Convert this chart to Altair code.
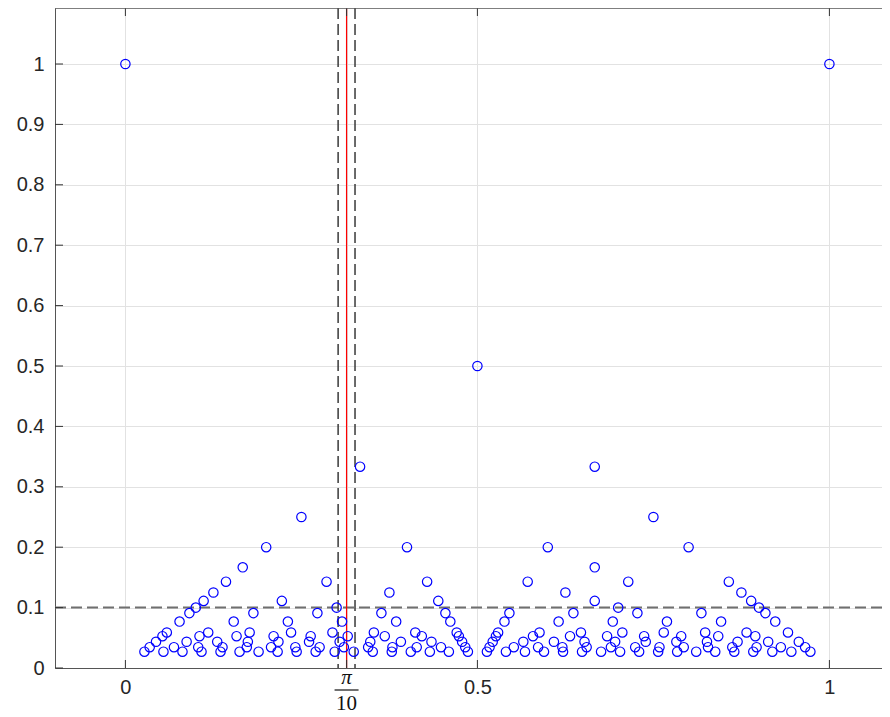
import altair as alt
import pandas as pd
import numpy as np

# numerators p observed for each denominator q (points at x=p/q, y=1/q)
num_q1 = [0, 1]
num_q2 = [1]
num_q3 = [1, 2]
num_q4 = [1, 3]
num_q5 = [1, 2, 3, 4]
num_q6 = [1, 4]
num_q7 = [1, 2, 3, 4, 5, 6]
num_q8 = [1, 3, 5, 7]
num_q9 = [1, 2, 4, 6, 8]
num_q10 = [1, 3, 7, 9]
num_q11 = [1, 2, 3, 4, 5, 6, 7, 8, 9, 10]
num_q13 = [1, 2, 3, 4, 5, 6, 7, 8, 9, 10, 11, 12]
num_q17 = [1, 2, 3, 4, 5, 6, 7, 8, 9, 10, 11, 12, 13, 14, 15, 16]
num_q19 = [1, 2, 3, 4, 5, 6, 7, 8, 9, 10, 11, 12, 13, 14, 15, 16, 17]
num_q23 = [1, 2, 3, 4, 5, 6, 7, 8, 9, 10, 11, 12, 13, 14, 15, 16, 17, 18, 19, 20,
           21, 22]
num_q29 = [1, 2, 3, 4, 5, 6, 7, 8, 9, 10, 11, 12, 13, 14, 15, 16, 17, 18, 19, 20,
           21, 22, 23, 24, 25, 26, 27, 28]
num_q37 = [1, 2, 3, 4, 5, 6, 7, 8, 9, 10, 11, 12, 13, 14, 15, 16, 17, 18, 19, 20,
           21, 22, 23, 24, 25, 26, 27, 28, 29, 30, 31, 32, 33, 34, 35, 36]

denominators = [1, 2, 3, 4, 5, 6, 7, 8, 9, 10, 11, 13, 17, 19, 23, 29, 37]
numerator_lists = [num_q1, num_q2, num_q3, num_q4, num_q5, num_q6, num_q7, num_q8,
                   num_q9, num_q10, num_q11, num_q13, num_q17, num_q19, num_q23,
                   num_q29, num_q37]

x_tick_values = [0, np.pi / 10, 0.5, 1]
y_tick_values = [0, 0.1, 0.2, 0.3, 0.4, 0.5, 0.6, 0.7, 0.8, 0.9, 1.0]
threshold_y = [0.1]
center_x = [np.pi / 10]
band_half_width = 0.012
band_x = [np.pi / 10 - band_half_width, np.pi / 10 + band_half_width]

rows = []
for q, nums in zip(denominators, numerator_lists):
    for p in nums:
        rows.append({"x": p / q, "y": 1 / q})
pts = pd.DataFrame(rows)

PX_PER_X = 704
PX_PER_Y = 604
W = 827
H = 660
xs = alt.Scale(domain=[-0.1, -0.1 + W / PX_PER_X], nice=False, zero=False)
ys = alt.Scale(domain=[0, H / PX_PER_Y], nice=False, zero=False)

x_axis = alt.Axis(values=x_tick_values, title=None, ticks=False, labelPadding=9,
                  labelExpr="datum.value == 0 ? '0' : datum.value == 0.5 ? '0.5' : datum.value == 1 ? '1' : ''",
                  gridColor="#e2e2e2", grid=True, domainColor="#555555")
y_axis = alt.Axis(values=y_tick_values, title=None, ticks=False, labelPadding=11,
                  labelExpr="format(datum.value, '.1~f')",
                  gridColor="#e2e2e2", grid=True, domainColor="#555555")

base_pts = alt.Chart(pts).mark_point(shape="circle", filled=False, color="#0000ff",
                                     size=88, strokeWidth=1.2, opacity=1).encode(
    x=alt.X("x:Q", scale=xs, axis=x_axis),
    y=alt.Y("y:Q", scale=ys, axis=y_axis),
)

hline = alt.Chart(pd.DataFrame({"y": threshold_y})).mark_rule(
    color="#6f6f6f", strokeWidth=2, strokeDash=[11, 5]).encode(
    y=alt.Y("y:Q", scale=ys))

vlines = alt.Chart(pd.DataFrame({"x": band_x})).mark_rule(
    color="#3a3a3a", strokeWidth=1.5, strokeDash=[11, 5]).encode(
    x=alt.X("x:Q", scale=xs))

redline = alt.Chart(pd.DataFrame({"x": center_x})).mark_rule(
    color="#ff0000", strokeWidth=1.2).encode(
    x=alt.X("x:Q", scale=xs))

ytick_df = pd.DataFrame({"y": y_tick_values})
yticks = alt.Chart(ytick_df).mark_rule(color="#333333", strokeWidth=1).encode(
    y=alt.Y("y:Q", scale=ys), x=alt.value(0), x2=alt.value(8))

xtick_df = pd.DataFrame({"x": x_tick_values})
xticks_b = alt.Chart(xtick_df).mark_rule(color="#333333", strokeWidth=1).encode(
    x=alt.X("x:Q", scale=xs), y=alt.value(H), y2=alt.value(H - 8))
xticks_t = alt.Chart(xtick_df).mark_rule(color="#333333", strokeWidth=1).encode(
    x=alt.X("x:Q", scale=xs), y=alt.value(0), y2=alt.value(8))

top_border = alt.Chart(pd.DataFrame({"x": center_x})).mark_rule(
    color="#555555", strokeWidth=1.5).encode(
    x=alt.value(0), x2=alt.value(W), y=alt.value(0))

pi_num = alt.Chart(pd.DataFrame({"x": center_x, "t": ["π"]})).mark_text(
    font="Liberation Serif", fontSize=21, fontStyle="italic", color="#111111",
    baseline="middle", align="center").encode(
    x=alt.X("x:Q", scale=xs), y=alt.value(H + 10), text="t:N")
pi_den = alt.Chart(pd.DataFrame({"x": center_x, "t": ["10"]})).mark_text(
    font="Liberation Serif", fontSize=21, color="#111111",
    baseline="middle", align="center").encode(
    x=alt.X("x:Q", scale=xs), y=alt.value(H + 36), text="t:N")
pi_bar = alt.Chart(pd.DataFrame({"x": center_x})).mark_rule(
    color="#111111", strokeWidth=1.2, xOffset=-12, x2Offset=12).encode(
    x=alt.X("x:Q", scale=xs), x2="x:Q", y=alt.value(H + 22))

chart = alt.layer(
    hline, vlines, redline, base_pts, yticks, xticks_b, xticks_t, top_border,
    pi_num, pi_den, pi_bar
).properties(
    width=W, height=H,
    autosize=alt.AutoSizeParams(type="none"),
    padding={"left": 47, "top": 0, "right": 0, "bottom": 50},
).configure_view(
    stroke=None
).configure_axis(
    labelFont="Liberation Sans", labelFontSize=20, labelColor="#262626",
    domainWidth=1,
)

chart.save("out.html", embed_options={"renderer": "svg", "actions": False})
